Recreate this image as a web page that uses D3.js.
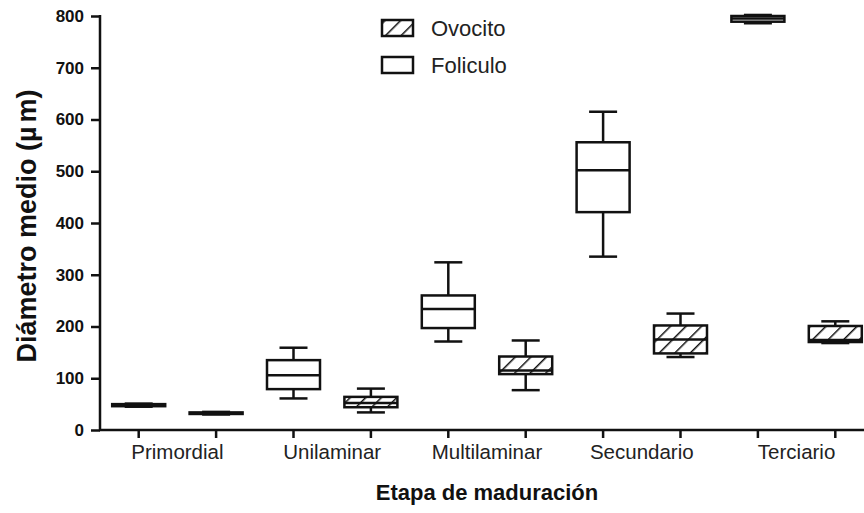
<!DOCTYPE html>
<html><head><meta charset="utf-8">
<script src="https://cdn.jsdelivr.net/npm/d3@7"></script>
<style>body{margin:0;background:#fff;} svg{display:block;font-family:"Liberation Sans",Arial,sans-serif;}</style>
</head><body><svg id="c" width="864" height="513"></svg>
<script>
const categories = ["Primordial","Unilaminar","Multilaminar","Secundario","Terciario"];
const series = ["Foliculo","Ovocito"];
// [min, q1, median, q3, max]
const foliculo = [[45,46,48,50,51],[61,79,106,135,159],[171,197,234,260,324],[335,421,502,556,615],[786,789,795,800,802]];
const ovocito  = [[30,31,32,34,35],[34,44,52,64,80],[77,108,115,142,173],[141,148,175,202,225],[168,170,174,201,210]];
const yTicks = [0,100,200,300,400,500,600,700,800];

const svg = d3.select("#c");
const defs = svg.append("defs");
const pat = defs.append("pattern").attr("id","hatch").attr("patternUnits","userSpaceOnUse")
  .attr("width",11).attr("height",11).attr("patternTransform","rotate(45)");
pat.append("rect").attr("width",11).attr("height",11).attr("fill","#fff");
pat.append("line").attr("x1",0).attr("y1",0).attr("x2",0).attr("y2",11).attr("stroke","#111").attr("stroke-width",3);

const x0 = 100, y0 = 430;
const y = d3.scaleLinear().domain([0,800]).range([y0,16]);
const slots = [];
categories.forEach((c,i)=>series.forEach(s=>slots.push(c+"|"+s)));
const x = d3.scaleBand().domain(slots).range([x0, x0+77.4*10]).padding(0);
const boxW = 53, capW = 28;

// Y axis
const ya = svg.append("g").attr("transform",`translate(${x0},0)`)
  .call(d3.axisLeft(y).tickValues(yTicks).tickSize(9).tickPadding(7).tickSizeOuter(0));
ya.select(".domain").attr("stroke","#111").attr("stroke-width",2.5).attr("d",`M0,${y0+1}V${y(800)-1}`);
ya.selectAll(".tick line").attr("stroke","#111").attr("stroke-width",2.5);
ya.selectAll(".tick text").attr("font-size",17).attr("font-weight","bold").attr("fill","#111")
  .attr("font-family","'Liberation Sans',Arial,sans-serif");

// X axis
const xa = svg.append("g").attr("transform",`translate(0,${y0})`)
  .call(d3.axisBottom(x).tickSize(8).tickSizeOuter(0).tickFormat(""));
xa.select(".domain").attr("stroke","#111").attr("stroke-width",2.5).attr("d",`M${x0-1},0H864`);
xa.selectAll(".tick line").attr("stroke","#111").attr("stroke-width",2.5);

// category labels
svg.append("g").selectAll("text").data(categories).join("text")
  .attr("x",c=>(x(c+"|Foliculo")+x(c+"|Ovocito"))/2 + x.bandwidth()/2)
  .attr("y",459).attr("text-anchor","middle").attr("font-size",20.5).attr("fill","#222").text(c=>c);

// boxes
const all = [];
categories.forEach((c,i)=>{
  all.push({key:c+"|Foliculo", v:foliculo[i], hatch:false});
  all.push({key:c+"|Ovocito", v:ovocito[i], hatch:true});
});
const g = svg.append("g");
all.forEach(d=>{
  const cx = x(d.key)+x.bandwidth()/2;
  const [mn,q1,md,q3,mx] = d.v;
  const bg = g.append("g").attr("stroke","#111").attr("stroke-width",2.5).attr("fill","none");
  bg.append("line").attr("x1",cx).attr("x2",cx).attr("y1",y(mx)).attr("y2",y(q3));
  bg.append("line").attr("x1",cx).attr("x2",cx).attr("y1",y(q1)).attr("y2",y(mn));
  bg.append("line").attr("x1",cx-capW/2).attr("x2",cx+capW/2).attr("y1",y(mx)).attr("y2",y(mx));
  bg.append("line").attr("x1",cx-capW/2).attr("x2",cx+capW/2).attr("y1",y(mn)).attr("y2",y(mn));
  bg.append("rect").attr("x",cx-boxW/2).attr("width",boxW).attr("y",y(q3)).attr("height",Math.max(0.5,y(q1)-y(q3)))
    .attr("fill",d.hatch?"url(#hatch)":"#fff");
  bg.append("line").attr("x1",cx-boxW/2).attr("x2",cx+boxW/2).attr("y1",y(md)).attr("y2",y(md));
});

// legend
const lg = svg.append("g");
[["Ovocito",true,28],["Foliculo",false,65]].forEach(([t,h,yy])=>{
  lg.append("rect").attr("x",382).attr("y",yy-8).attr("width",31).attr("height",16)
    .attr("fill",h?"url(#hatch)":"#fff").attr("stroke","#111").attr("stroke-width",2.5);
  lg.append("text").attr("x",431).attr("y",yy+8).attr("font-size",22).attr("fill","#222").text(t);
});

// titles
svg.append("text").attr("x",487).attr("y",500).attr("text-anchor","middle").attr("font-size",22)
  .attr("font-weight","bold").attr("fill","#111").text("Etapa de maduración");
const yt = svg.append("text").attr("transform",`translate(36,226) rotate(-90)`).attr("text-anchor","middle")
  .attr("font-size",27).attr("font-weight","bold").attr("fill","#111");
yt.append("tspan").text("Diámetro medio (µ");
yt.append("tspan").attr("dx",4).text("m)");
</script></body></html>
